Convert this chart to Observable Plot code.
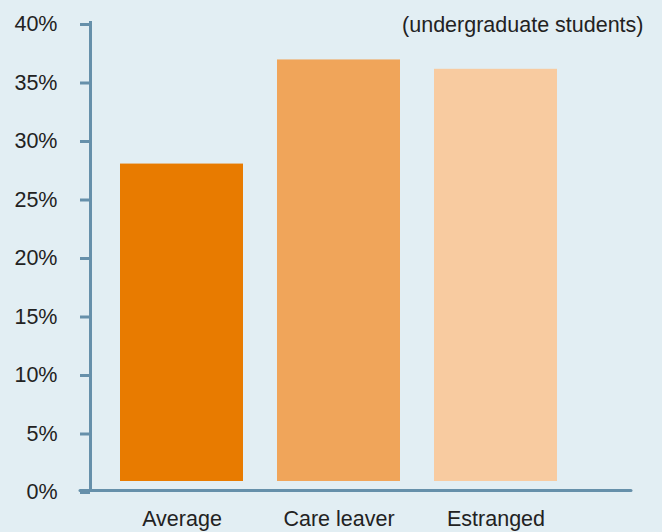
<!DOCTYPE html>
<html>
<head>
<meta charset="utf-8">
<script src="https://cdn.jsdelivr.net/npm/d3@7"></script>
<script src="https://cdn.jsdelivr.net/npm/@observablehq/plot@0.6"></script>
<style>
  html, body { margin: 0; padding: 0; background: #e2eef3; }
  #chart svg { display: block; }
</style>
</head>
<body>
<div id="chart"></div>
<script>
const categories = ["Average", "Care leaver", "Estranged"];
const values = [0.279, 0.368, 0.36];
const colors = ["#e87b00", "#f0a55a", "#f8cba0"];
const yTicks = [0, 0.05, 0.10, 0.15, 0.20, 0.25, 0.30, 0.35, 0.40];
const subtitle = "(undergraduate students)";

const data = categories.map((c, i) => ({category: c, value: values[i], color: colors[i]}));
const axisColor = "#6690aa";
const font = "'Liberation Sans', Arial, sans-serif";
const fs = 21.5;

const chart = Plot.plot({
  width: 662,
  height: 532,
  marginLeft: 90,
  marginRight: 31,
  marginTop: 22,
  marginBottom: 42,
  style: {background: "#e2eef3", fontFamily: font, fontSize: fs + "px", color: "#222"},
  x: {domain: categories, range: [84.5, 591.5], padding: 0.219, label: null},
  y: {domain: [0, 0.40], label: null},
  marks: [
    Plot.barY(data, {x: "category", y: "value", fill: "color", insetBottom: 9}),
    Plot.frame({anchor: "left", stroke: axisColor, strokeWidth: 3, strokeOpacity: 1}),
    Plot.ruleY([0], {stroke: axisColor, strokeWidth: 3, insetLeft: -10, strokeLinecap: "round"}),
    Plot.axisY({ticks: yTicks, tickFormat: d => Math.round(d * 100) + "%", tickSize: 10, tickPadding: 23, stroke: axisColor, strokeWidth: 3, strokeOpacity: 1, fill: "#222", fontSize: fs, dy: 2, label: null}),
    Plot.axisX({tickSize: 0, tickPadding: 20, fill: "#222", fontSize: fs, label: null}),
    Plot.text([subtitle], {frameAnchor: "top-right", text: d => d, dx: 12, dy: 3, lineAnchor: "middle", fill: "#222", fontSize: fs})
  ]
});
document.getElementById("chart").append(chart);
</script>
</body>
</html>
